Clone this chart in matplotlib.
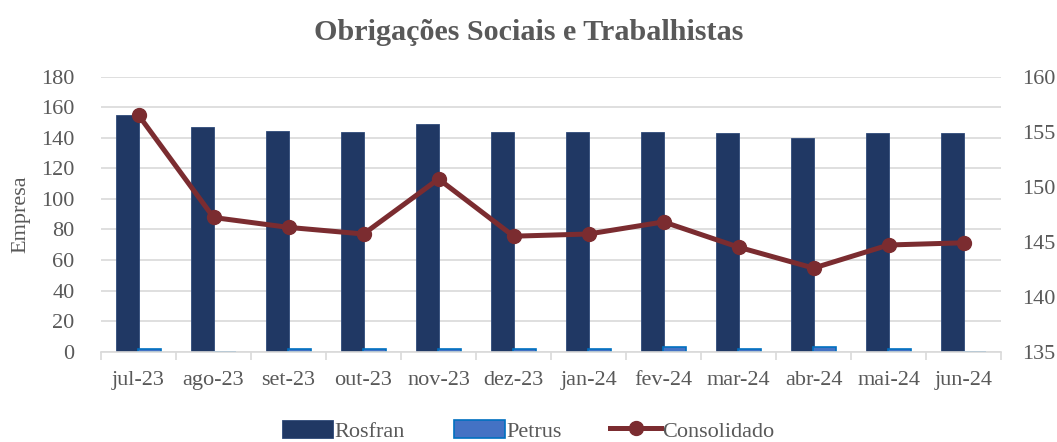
import matplotlib
matplotlib.use("Agg")
import matplotlib.pyplot as plt
import numpy as np

categories = ["jul-23", "ago-23", "set-23", "out-23", "nov-23", "dez-23",
              "jan-24", "fev-24", "mar-24", "abr-24", "mai-24", "jun-24"]
rosfran = [155.2, 147.3, 144.7, 144.1, 149.0, 143.8, 143.8, 143.8, 142.9, 139.6, 143.1, 143.4]
petrus = [2.0, 0.0, 2.0, 2.0, 2.0, 2.0, 2.0, 3.3, 2.0, 3.3, 2.0, 0.0]
consolidado = [156.5, 147.2, 146.3, 145.7, 150.7, 145.5, 145.7, 146.8, 144.5, 142.6, 144.7, 144.9]

FONT = "Liberation Serif"
GREY = "#595959"
FS = 16
plt.rcParams["font.family"] = FONT

fig = plt.figure(figsize=(10.57, 4.42), dpi=100)
ax = fig.add_axes([0.0956, 0.2043, 0.8515, 0.6222])
x = np.arange(len(categories))
w = 0.31
ax.bar(x - 0.145, rosfran, width=w, color="#203864", edgecolor="#2F4A7A", linewidth=0.6,
       label="Rosfran", zorder=2)
ax.bar(x + 0.145, petrus, width=w, color="#4472C4", edgecolor="#0070C0", linewidth=1.2,
       label="Petrus", zorder=2)
ax.set_ylim(0, 180)
ax.set_yticks(range(0, 181, 20))
ax.set_xlim(-0.5, len(categories) - 0.5)
ax.set_xticks(x)
ax.set_xticklabels(categories)
ax.set_xticks(np.arange(-0.5, len(categories), 1.0), minor=True)
ax.tick_params(axis="x", which="major", length=0, pad=14, labelsize=FS, colors=GREY)
ax.tick_params(axis="x", which="minor", length=6, width=1.2, color="#D9D9D9")
ax.tick_params(axis="y", length=0, pad=19, labelsize=FS, colors=GREY)
ax.grid(axis="y", color="#D9D9D9", linewidth=1.2, zorder=0)
ax.set_axisbelow(True)
for s in ["top", "right", "left"]:
    ax.spines[s].set_visible(False)
ax.spines["bottom"].set_color("#D9D9D9")
ax.spines["bottom"].set_linewidth(1.2)
ax.set_ylabel("Empresa", fontsize=FS, color=GREY, labelpad=8)

ax2 = ax.twinx()
ax2.plot(x, consolidado, color="#7B2C30", linewidth=3.6, marker="o", markersize=10,
         label="Consolidado", zorder=3)
ax2.set_ylim(135, 160)
ax2.set_yticks(range(135, 161, 5))
ax2.tick_params(axis="y", length=0, pad=15, labelsize=FS, colors=GREY)
for s in ["top", "right", "left", "bottom"]:
    ax2.spines[s].set_visible(False)

fig.suptitle("Obrigações Sociais e Trabalhistas", x=0.5, y=0.958, fontsize=21.7,
             fontweight="bold", color=GREY)

h1, l1 = ax.get_legend_handles_labels()
h2, l2 = ax2.get_legend_handles_labels()
leg = fig.legend(h1 + h2, l1 + l2, loc="lower center", bbox_to_anchor=(0.5, -0.045),
                 ncol=3, frameon=False, fontsize=FS, handlelength=2.3, handleheight=0.9,
                 handletextpad=0.05, columnspacing=2.2)
for t in leg.get_texts():
    t.set_color(GREY)

fig.savefig("out.png", dpi=100)
